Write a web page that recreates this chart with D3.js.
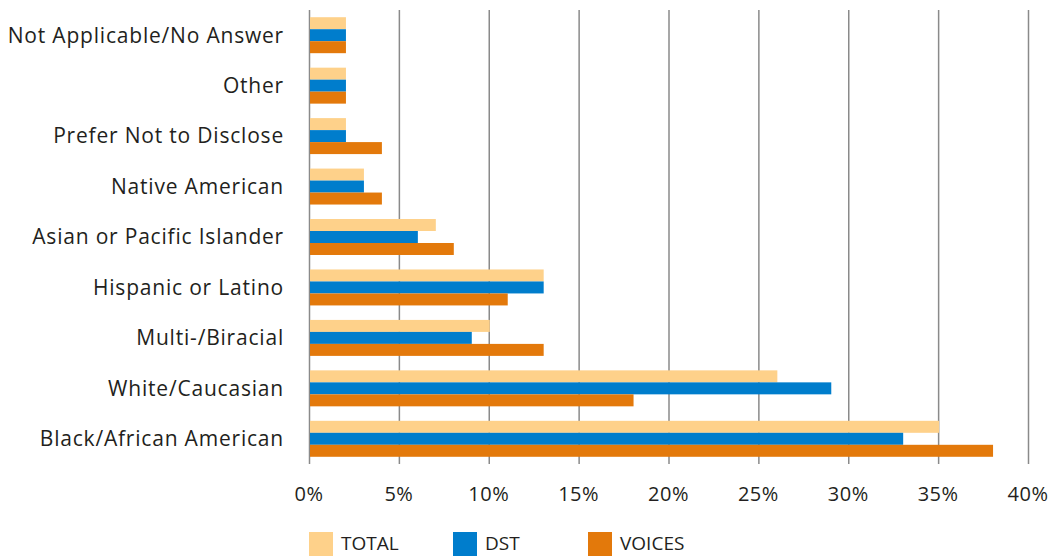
<!DOCTYPE html>
<html>
  <head>
    <meta charset="utf-8" />
    <title>Race / Ethnicity</title>
    <script src="https://d3js.org/d3.v7.min.js"></script>
    <style>
      body { margin: 0; background: #fff; }
      text { font-family: "Open Sans", "Lato", sans-serif; fill: #231f20; }
      .grid line { stroke: #8a8a8a; stroke-width: 1.5; }
      .grid path { display: none; }
    </style>
  </head>
  <body>
    <svg width="1051" height="557"></svg>
    <script>
      // categories, top to bottom
      var categories = ["Not Applicable/No Answer", "Other", "Prefer Not to Disclose", "Native American",
        "Asian or Pacific Islander", "Hispanic or Latino", "Multi-/Biracial", "White/Caucasian",
        "Black/African American"];
      var seriesNames = ["TOTAL", "DST", "VOICES"];
      var total  = [2, 2, 2, 3, 7, 13, 10, 26, 35];
      var dst    = [2, 2, 2, 3, 6, 13, 9, 29, 33];
      var voices = [2, 2, 4, 4, 8, 11, 13, 18, 38];
      var ticks = [0, 5, 10, 15, 20, 25, 30, 35, 40];
      var colors = ["#fed18a", "#007dcc", "#e3790b"];

      var svg = d3.select("svg");
      var margin = {left: 309, right: 23, top: 10, bottom: 93};
      var width = 1051 - margin.left - margin.right,
          height = 557 - margin.top - margin.bottom;

      var data = categories.map(function(c, i) {
        return {cat: c, vals: [total[i], dst[i], voices[i]]};
      });

      var x = d3.scaleLinear().domain([0, 40]).range([0, width]);
      var y = d3.scaleBand().domain(categories).range([0, height]).paddingInner(0.287).paddingOuter(0.143);
      var y1 = d3.scaleBand().domain(seriesNames).range([0, y.bandwidth()]);

      var g = svg.append("g").attr("transform", "translate(" + margin.left + "," + margin.top + ")");

      // vertical gridlines (including the 0 axis)
      g.append("g")
          .attr("class", "grid")
          .call(d3.axisBottom(x).tickValues(ticks).tickSize(height).tickFormat(""));

      // tick labels
      g.selectAll(".xlab")
        .data(ticks)
        .enter().append("text")
          .attr("class", "xlab")
          .attr("x", function(d) { return x(d); })
          .attr("y", height + 37)
          .attr("text-anchor", "middle")
          .style("font-size", "20px")
          .style("letter-spacing", "0.5px")
          .text(function(d) { return d + "%"; });

      // category labels
      g.selectAll(".ylab")
        .data(categories)
        .enter().append("text")
          .attr("class", "ylab")
          .attr("x", -25)
          .attr("y", function(d) { return y(d) + y.bandwidth() / 2; })
          .attr("dy", "0.35em")
          .attr("text-anchor", "end")
          .style("font-size", "21px")
          .style("letter-spacing", "0.8px")
          .text(function(d) { return d; });

      // bars
      var groups = g.selectAll(".grp")
        .data(data)
        .enter().append("g")
          .attr("class", "grp")
          .attr("transform", function(d) { return "translate(0," + y(d.cat) + ")"; });

      groups.selectAll("rect")
        .data(function(d) { return d.vals.map(function(v, i) { return {s: seriesNames[i], v: v, i: i}; }); })
        .enter().append("rect")
          .attr("x", x(0) + 1)
          .attr("y", function(d) { return y1(d.s); })
          .attr("width", function(d) { return x(d.v) - x(0); })
          .attr("height", y1.bandwidth())
          .attr("fill", function(d) { return colors[d.i]; });

      // legend
      var legendX = [309, 453, 588];
      var leg = svg.selectAll(".leg")
        .data(seriesNames)
        .enter().append("g")
          .attr("class", "leg")
          .attr("transform", function(d, i) { return "translate(" + legendX[i] + ",532)"; });
      leg.append("rect")
          .attr("width", 24).attr("height", 24)
          .attr("fill", function(d, i) { return colors[i]; });
      leg.append("text")
          .attr("x", 32).attr("y", 18)
          .style("font-size", "19px")
          .text(function(d) { return d; });
    </script>
  </body>
</html>
